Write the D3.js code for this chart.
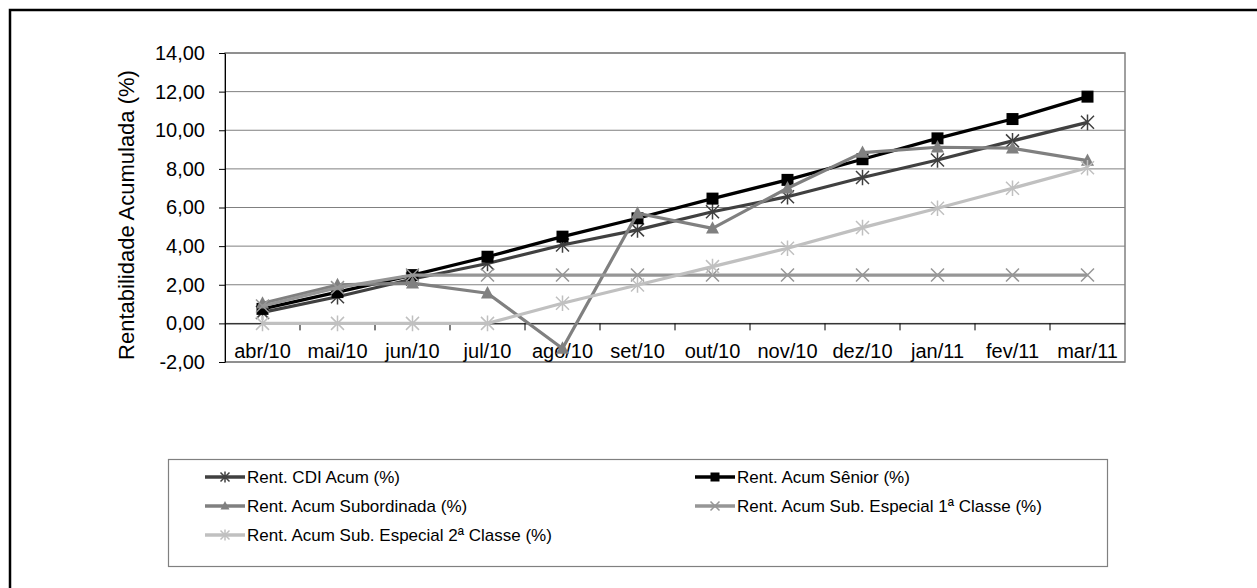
<!DOCTYPE html>
<html>
<head>
<meta charset="utf-8">
<script src="https://cdn.jsdelivr.net/npm/d3@7"></script>
<style>
  body { margin: 0; background: #fff; }
  text { font-family: "Liberation Sans", Arial, sans-serif; fill: #000; }
</style>
</head>
<body>
<script>
const width = 1257
const height = 588

// data
const months = ["abr/10", "mai/10", "jun/10", "jul/10", "ago/10", "set/10", "out/10", "nov/10", "dez/10", "jan/11", "fev/11", "mar/11"]
const cdi      = [0.57, 1.38, 2.30, 3.10, 4.06, 4.84, 5.78, 6.56, 7.55, 8.46, 9.45, 10.41]
const senior   = [0.75, 1.62, 2.50, 3.45, 4.49, 5.44, 6.46, 7.43, 8.50, 9.58, 10.58, 11.74]
const subord   = [1.04, 1.99, 2.08, 1.56, -1.30, 5.70, 4.92, 7.00, 8.84, 9.12, 9.07, 8.43]
const sub1     = [0.90, 1.85, 2.50, 2.50, 2.50, 2.50, 2.50, 2.50, 2.50, 2.50, 2.50, 2.50]
const sub2     = [0.00, 0.00, 0.00, 0.00, 1.04, 1.99, 2.94, 3.89, 4.96, 5.96, 7.00, 8.06]
const yTicks   = [-2, 0, 2, 4, 6, 8, 10, 12, 14]

const series = [
  {name: "Rent. CDI Acum (%)", values: cdi, color: "#404040", marker: "star"},
  {name: "Rent. Acum Sênior (%)", values: senior, color: "#000000", marker: "square"},
  {name: "Rent. Acum Subordinada (%)", values: subord, color: "#808080", marker: "triangle"},
  {name: "Rent. Acum Sub. Especial 1ª Classe (%)", values: sub1, color: "#969696", marker: "x"},
  {name: "Rent. Acum Sub. Especial 2ª Classe (%)", values: sub2, color: "#C0C0C0", marker: "star"}
]

const plot = {left: 225, right: 1125, top: 53, bottom: 362}

const x = d3.scaleBand().domain(months).range([plot.left, plot.right])
const y = d3.scaleLinear().domain([-2, 14]).range([plot.bottom, plot.top])
const fmt = d => d.toFixed(2).replace(".", ",")

const svg = d3.select("body").append("svg")
    .attr("width", width).attr("height", height)

// outer frame (right / bottom edges fall outside the picture)
svg.append("rect")
    .attr("x", 10).attr("y", 10).attr("width", 1400).attr("height", 800)
    .attr("fill", "none").attr("stroke", "#000").attr("stroke-width", 2.5)

// gridlines
svg.append("g")
  .selectAll("line")
  .data(yTicks)
  .join("line")
    .attr("x1", plot.left).attr("x2", plot.right)
    .attr("y1", d => y(d)).attr("y2", d => y(d))
    .attr("stroke", "#808080").attr("stroke-width", 1)

// plot area border
svg.append("rect")
    .attr("x", plot.left).attr("y", plot.top)
    .attr("width", plot.right - plot.left).attr("height", plot.bottom - plot.top)
    .attr("fill", "none").attr("stroke", "#808080").attr("stroke-width", 1.5)

// y axis
svg.append("g")
    .attr("transform", `translate(${plot.left},0)`)
    .call(d3.axisLeft(y).tickValues(yTicks).tickFormat(fmt).tickSize(6).tickPadding(14).tickSizeOuter(0))
    .call(g => g.selectAll("text").attr("font-size", 20).attr("font-family", '"Liberation Sans", Arial, sans-serif'))
    .call(g => g.selectAll("line, path").attr("stroke", "#000"))

// x axis at zero
const xAxis = svg.append("g")
    .attr("transform", `translate(0,${y(0)})`)
    .call(d3.axisBottom(x).tickSize(0).tickPadding(20))
    .call(g => g.selectAll("text").attr("font-size", 20).attr("font-family", '"Liberation Sans", Arial, sans-serif'))
    .call(g => g.select(".domain").attr("stroke", "#000"))

xAxis.append("g")
  .selectAll("line")
  .data(months.slice(1))
  .join("line")
    .attr("x1", d => x(d)).attr("x2", d => x(d))
    .attr("y1", 0).attr("y2", 7)
    .attr("stroke", "#000")

svg.append("text")
    .attr("transform", `translate(126,215) rotate(-90)`)
    .attr("text-anchor", "middle").attr("dominant-baseline", "central")
    .attr("font-size", 22)
    .text("Rentabilidade Acumulada (%)")

// markers
function markerPath(type, s) {
  const r = s / 2
  if (type === "square") return `M${-r},${-r}h${s}v${s}h${-s}Z`
  if (type === "triangle") return `M0,${-r * 1.1}L${r},${r * 0.8}L${-r},${r * 0.8}Z`
  if (type === "x") return `M${-r},${-r}L${r},${r}M${-r},${r}L${r},${-r}`
  return `M${-r},${-r}L${r},${r}M${-r},${r}L${r},${-r}M0,${-r * 1.2}V${r * 1.2}`
}
function drawMarker(g, type, color, s) {
  const filled = type === "square" || type === "triangle"
  g.append("path")
    .attr("d", markerPath(type, s))
    .attr("fill", filled ? color : "none")
    .attr("stroke", color)
    .attr("stroke-width", filled ? 0 : 1.5)
}

const line = d3.line().x((d, i) => x(months[i]) + x.bandwidth() / 2).y(d => y(d))

series.forEach(s => {
  const g = svg.append("g")
  g.append("path")
    .attr("d", line(s.values))
    .attr("fill", "none").attr("stroke", s.color).attr("stroke-width", 3.2)
    .attr("stroke-linejoin", "round")
  s.values.forEach((v, i) => {
    const m = g.append("g").attr("transform", `translate(${x(months[i]) + x.bandwidth() / 2},${y(v)})`)
    drawMarker(m, s.marker, s.color, s.marker === "square" ? 12 : 13)
  })
})

// legend
svg.append("rect")
    .attr("x", 168.5).attr("y", 459.5).attr("width", 939).attr("height", 107)
    .attr("fill", "#fff").attr("stroke", "#808080").attr("stroke-width", 1.2)

const legendPos = [[205, 477], [695, 477], [205, 506], [695, 506], [205, 535]]
series.forEach((s, i) => {
  const [lx, ly] = legendPos[i]
  const g = svg.append("g").attr("transform", `translate(${lx},${ly})`)
  g.append("line").attr("x1", 0).attr("x2", 40).attr("stroke", s.color).attr("stroke-width", 3.5)
  const m = g.append("g").attr("transform", "translate(20,0)")
  drawMarker(m, s.marker, s.color, 9)
  g.append("text")
    .attr("x", 42).attr("dominant-baseline", "central")
    .attr("font-size", 17)
    .text(s.name)
})
</script>
</body>
</html>
